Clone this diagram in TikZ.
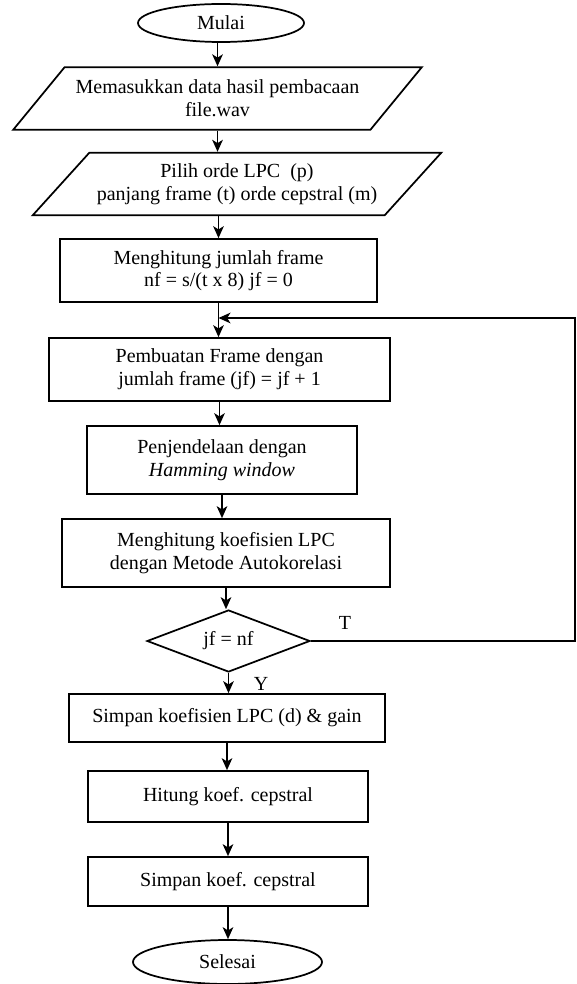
\documentclass[tikz,border=0pt]{standalone}
\usepackage{fontspec}
\setmainfont{Liberation Serif}
\usepackage{tikz}
\usetikzlibrary{arrows.meta,shapes.geometric}

\begin{document}
\begin{tikzpicture}[x=0.75pt, y=-0.75pt,
  font=\fontsize{15}{17}\selectfont,
  terminal/.style={draw, line width=1.3pt, ellipse, inner sep=0pt},
  masukan/.style={draw, line width=1.3pt, trapezium, trapezium left angle=37.5,
    trapezium right angle=142.5, trapezium stretches body, align=center,
    inner sep=1pt, minimum height=47pt, minimum width=306.5pt},
  proses/.style={draw, line width=1.3pt, rectangle, align=center, inner sep=2pt},
  keputusan/.style={draw, line width=1.3pt, diamond, aspect=2.6, inner sep=0pt,
    minimum width=122.25pt, minimum height=46.5pt},
  panah/.style={-{Stealth[length=9pt, width=8pt, inset=2.5pt]}, line width=1.1pt}]
\useasboundingbox (0,0) rectangle (577,984);
% Awal dan input
\node[terminal, minimum width=124.5pt, minimum height=28.5pt] (mulai) at (221,23) {Mulai};
\node[masukan] (baca) at (217.5,98.5) {Memasukkan data hasil pembacaan\\file.wav};
\node[masukan] (orde) at (237,184) {Pilih orde LPC~ (p)\\panjang frame (t) orde cepstral (m)};
% Proses per frame
\node[proses, minimum width=237.75pt, minimum height=47.25pt] (hitung) at (218.5,270.5) {Menghitung jumlah frame\\nf = s/(t x 8) jf = 0};
\node[proses, minimum width=255.75pt, minimum height=47.25pt] (frame) at (219.5,369.5) {Pembuatan Frame dengan\\jumlah frame (jf) = jf + 1};
\node[proses, minimum width=202.5pt, minimum height=51pt] (jendela) at (222,460) {Penjendelaan dengan\\\textit{Hamming window}};
\node[proses, minimum width=246pt, minimum height=51pt] (lpc) at (226,553) {Menghitung koefisien LPC\\dengan Metode Autokorelasi};
\node[keputusan] (cek) at (228.5,641) {jf = nf};
% Simpan hasil
\node[proses, minimum width=237pt, minimum height=36pt] (simpan) at (227,718) {Simpan koefisien LPC (d) \& gain};
\node[proses, minimum width=210pt, minimum height=38.25pt] (cepstral) at (228,796.5) {Hitung koef. cepstral};
\node[proses, minimum width=210pt, minimum height=36.75pt] (simpancep) at (228,881.5) {Simpan koef. cepstral};
\node[terminal, minimum width=141.75pt, minimum height=33pt] (selesai) at (227.5,962) {Selesai};
% Label cabang
\node (labelT) at (345,623) {T};
\node (labelY) at (261,684) {Y};
% Panah
\draw[panah] (mulai.south -| baca.north) -- (baca.north);
\draw[panah] (baca.south) -- (baca.south |- orde.north);
\draw[panah] (orde.south -| hitung.north) -- (hitung.north);
\draw[panah] (hitung.south) -- (hitung.south |- frame.north);
\draw[panah] (frame.south) -- (frame.south |- jendela.north);
\draw[panah] (jendela.south) -- (jendela.south |- lpc.north);
\draw[panah] (lpc.south) -- (lpc.south |- cek.north);
\draw[panah] (cek.south) -- (cek.south |- simpan.north);
\draw[panah] (simpan.south) -- (simpan.south |- cepstral.north);
\draw[panah] (cepstral.south) -- (cepstral.south |- simpancep.north);
\draw[panah] (simpancep.south) -- (simpancep.south |- selesai.north);
% Kembali ke pembuatan frame
\coordinate (masuk) at (218.5,318);
\coordinate (pojok) at (575,318);
\draw[panah] (cek.east) -| (pojok) -- (masuk);
\end{tikzpicture}
\end{document}
